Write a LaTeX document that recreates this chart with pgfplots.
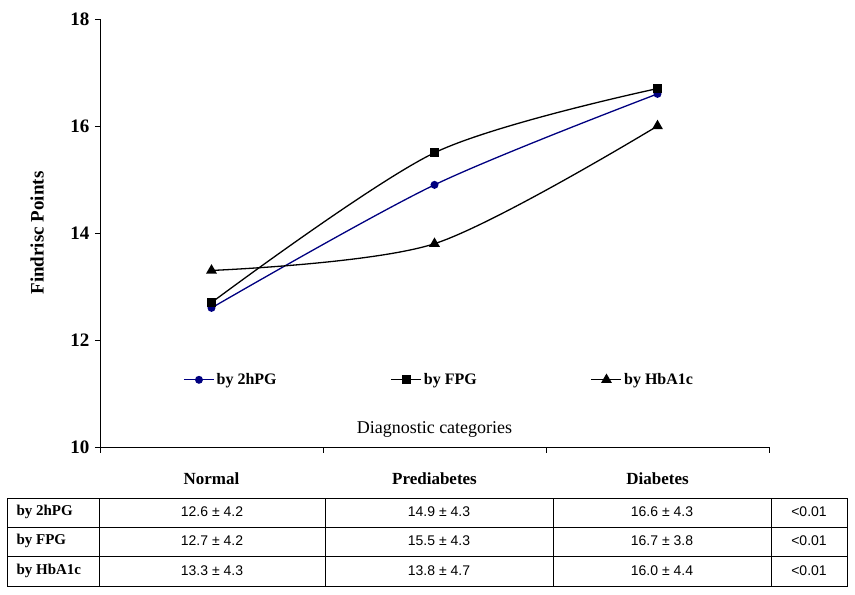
\documentclass[border=0pt]{standalone}
\usepackage{pgfplots}
\pgfplotsset{compat=1.18}
\usepackage{fontspec}
\setmainfont{Liberation Serif}
\setsansfont{Liberation Sans}
\definecolor{navy}{RGB}{0,0,128}
\begin{document}
\begin{tikzpicture}[x=1pt,y=1pt]
\useasboundingbox (0,0) rectangle (855,595);
\begin{axis}[
  at={(100pt,148pt)}, anchor=south west,
  scale only axis, width=669pt, height=428pt,
  xmin=0, xmax=3, ymin=10, ymax=18,
  axis lines=left, axis line style={-, line width=0.8pt},
  tick align=outside,
  major tick length=5pt, minor tick length=6pt,
  tick style={black, line width=0.8pt},
  xtick={0.5,1.5,2.5},
  xticklabels={Normal,Prediabetes,Diabetes},
  minor xtick={0,1,2,3},
  major x tick style={draw=none},
  ytick={10,12,14,16,18},
  /pgf/number format/assume math mode=true,
  yticklabel style={font=\fontsize{19}{19}\selectfont\bfseries, xshift=-2pt},
  xticklabel style={font=\fontsize{17}{17}\selectfont\bfseries, anchor=center, yshift=-27pt},
  every axis y label/.style={at={(axis description cs:-0.094,0.5)}, rotate=90, anchor=center},
  ylabel={\fontsize{19}{19}\selectfont\bfseries Findrisc Points},
  every axis x label/.style={at={(axis description cs:0.5,0.04)}, anchor=center},
  xlabel={\fontsize{18}{18}\selectfont Diagnostic categories},
  legend style={at={(axis description cs:0.507,0.157)}, anchor=center, draw=none, fill=none,
    legend columns=3, font=\fontsize{16}{16}\selectfont\bfseries,
    /tikz/every even column/.append style={column sep=112pt}},
  legend image code/.code={\draw[mark repeat=2,mark phase=2,#1] plot coordinates {(0pt,0pt)(15pt,0pt)(30pt,0pt)};},
]
\addplot[color=navy, line width=1.3pt, smooth, mark=*, mark size=3.3pt, mark options={solid, fill=navy}]
  coordinates {(0.5,12.6) (1.5,14.9) (2.5,16.6)};
\addlegendentry{by 2hPG}
\addplot[color=black, line width=1.3pt, smooth, mark=square*, mark size=4pt, mark options={solid}]
  coordinates {(0.5,12.7) (1.5,15.5) (2.5,16.7)};
\addlegendentry{by FPG}
\addplot[color=black, line width=1.3pt, smooth, mark=triangle*, mark size=5pt, mark options={solid}]
  coordinates {(0.5,13.3) (1.5,13.8) (2.5,16.0)};
\addlegendentry{by HbA1c}
\end{axis}
% table
\draw[line width=0.8pt] (7,9) rectangle (847,97);
\draw[line width=0.8pt] (7,68) -- (847,68);
\draw[line width=0.8pt] (7,39) -- (847,39);
\foreach \x in {99,325,553,771} \draw[line width=0.8pt] (\x,9) -- (\x,97);
\tikzset{rl/.style={anchor=west, font=\fontsize{15}{15}\selectfont\bfseries},
         nv/.style={anchor=center, font=\sffamily\fontsize{14}{14}\selectfont}}
\node[rl] at (13,83) {by 2hPG};
\node[rl] at (13,54) {by FPG};
\node[rl] at (13,24) {by HbA1c};
\node[nv] at (212,83) {12.6 ± 4.2};
\node[nv] at (439,83) {14.9 ± 4.3};
\node[nv] at (662,83) {16.6 ± 4.3};
\node[nv] at (809,83) {<0.01};
\node[nv] at (212,54) {12.7 ± 4.2};
\node[nv] at (439,54) {15.5 ± 4.3};
\node[nv] at (662,54) {16.7 ± 3.8};
\node[nv] at (809,54) {<0.01};
\node[nv] at (212,24) {13.3 ± 4.3};
\node[nv] at (439,24) {13.8 ± 4.7};
\node[nv] at (662,24) {16.0 ± 4.4};
\node[nv] at (809,24) {<0.01};
\end{tikzpicture}
\end{document}
